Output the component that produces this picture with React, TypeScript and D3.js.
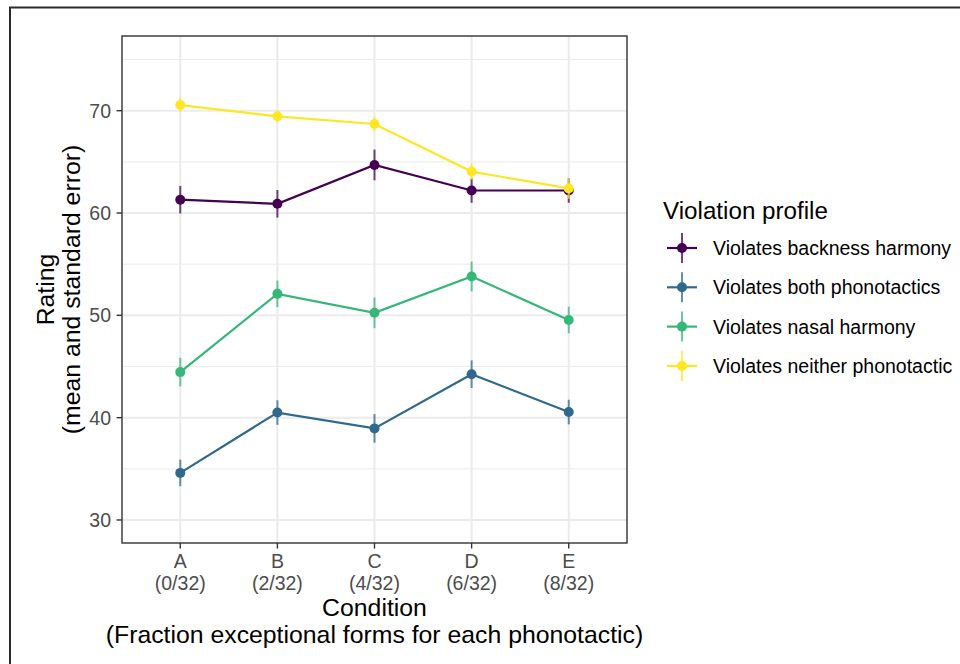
import React from "react";
import * as d3 from "d3";

const categories = ["A", "B", "C", "D", "E"];
const categorySub = ["(0/32)", "(2/32)", "(4/32)", "(6/32)", "(8/32)"];
const seriesNames = [
  "Violates backness harmony",
  "Violates both phonotactics",
  "Violates nasal harmony",
  "Violates neither phonotactic",
];
const seriesColors = ["#440154", "#31688E", "#35B779", "#FDE725"];
const backnessMean = [61.3, 60.9, 64.7, 62.2, 62.2];
const backnessSE = [1.35, 1.35, 1.5, 1.2, 1.2];
const bothMean = [34.6, 40.5, 38.95, 44.25, 40.55];
const bothSE = [1.3, 1.2, 1.4, 1.35, 1.2];
const nasalMean = [44.45, 52.1, 50.25, 53.8, 49.55];
const nasalSE = [1.4, 1.3, 1.5, 1.45, 1.3];
const neitherMean = [70.55, 69.45, 68.7, 64.05, 62.4];
const neitherSE = [0.7, 0.6, 0.7, 0.8, 1.0];
const yMajorTicks = [30, 40, 50, 60, 70];
const yMinorTicks = [35, 45, 55, 65, 75];

const seriesMeans = [backnessMean, bothMean, nasalMean, neitherMean];
const seriesSE = [backnessSE, bothSE, nasalSE, neitherSE];

export default function App() {
  const W = 960, H = 664;
  const pl = 122, pr = 627, pt = 36, pb = 543;
  const x = d3.scalePoint<string>().domain(categories).range([pl, pr]).padding(0.6);
  const y = d3.scaleLinear().domain([27.75, 77.3]).range([pb, pt]);
  const line = d3.line<number>().x((_, i) => x(categories[i])!).y((d) => y(d));
  const font = "'Liberation Sans', Arial, sans-serif";
  const tickFs = 19.5;
  const titleFs = 24.8;
  const legTitleFs = 24.2;

  return (
    <svg width={W} height={H} style={{ position: "absolute", left: 0, top: 0, display: "block" }} fontFamily={font}>
      <rect x={0} y={0} width={W} height={H} fill="#fff" />
      {/* outer frame */}
      <path d={`M10,${H} L10,7.5 L${W},7.5`} fill="none" stroke="#2b2b2b" strokeWidth={2} />
      {/* panel grid */}
      {yMinorTicks.map((t) => (
        <line key={"mi" + t} x1={pl} x2={pr} y1={y(t)} y2={y(t)} stroke="#EBEBEB" strokeWidth={1} />
      ))}
      {yMajorTicks.map((t) => (
        <line key={"ma" + t} x1={pl} x2={pr} y1={y(t)} y2={y(t)} stroke="#EBEBEB" strokeWidth={2} />
      ))}
      {categories.map((c) => (
        <line key={"vx" + c} x1={x(c)} x2={x(c)} y1={pt} y2={pb} stroke="#EBEBEB" strokeWidth={2} />
      ))}
      {/* series */}
      {seriesMeans.map((m, si) => (
        <g key={"s" + si}>
          {m.map((v, i) => (
            <line key={"e" + i} x1={x(categories[i])} x2={x(categories[i])}
              y1={y(v - seriesSE[si][i])} y2={y(v + seriesSE[si][i])}
              stroke={seriesColors[si]} strokeWidth={2} strokeOpacity={0.75} />
          ))}
          <path d={line(m)!} fill="none" stroke={seriesColors[si]} strokeWidth={2.2} />
          {m.map((v, i) => (
            <circle key={"p" + i} cx={x(categories[i])} cy={y(v)} r={5} fill={seriesColors[si]} />
          ))}
        </g>
      ))}
      {/* panel border */}
      <rect x={pl} y={pt} width={pr - pl} height={pb - pt} fill="none" stroke="#333333" strokeWidth={1.4} />
      {/* y axis */}
      {yMajorTicks.map((t) => (
        <g key={"yt" + t}>
          <line x1={pl - 5.5} x2={pl} y1={y(t)} y2={y(t)} stroke="#333333" strokeWidth={1.4} />
          <text x={pl - 11} y={y(t)} dy="0.36em" textAnchor="end" fontSize={tickFs} fill="#4D4D4D">{t}</text>
        </g>
      ))}
      {/* x axis */}
      {categories.map((c, i) => (
        <g key={"xt" + c}>
          <line x1={x(c)} x2={x(c)} y1={pb} y2={pb + 5.5} stroke="#333333" strokeWidth={1.4} />
          <text x={x(c)} y={pb + 25} textAnchor="middle" fontSize={tickFs} fill="#4D4D4D">{c}</text>
          <text x={x(c)} y={pb + 47} textAnchor="middle" fontSize={tickFs} fill="#4D4D4D">{categorySub[i]}</text>
        </g>
      ))}
      <text x={(pl + pr) / 2} y={616} textAnchor="middle" fontSize={titleFs} fill="#000">Condition</text>
      <text x={(pl + pr) / 2} y={643} textAnchor="middle" fontSize={titleFs} fill="#000">(Fraction exceptional forms for each phonotactic)</text>
      <g transform={`translate(54,${(pt + pb) / 2}) rotate(-90)`}>
        <text x={0} y={0} textAnchor="middle" fontSize={titleFs} fill="#000">Rating</text>
        <text x={0} y={26} textAnchor="middle" fontSize={titleFs} fill="#000">(mean and standard error)</text>
      </g>
      {/* legend */}
      <text x={663} y={219} fontSize={legTitleFs} fill="#000">Violation profile</text>
      {seriesNames.map((n, i) => {
        const cy = 248 + i * 39.3;
        return (
          <g key={"lg" + n}>
            <line x1={682} x2={682} y1={cy - 15} y2={cy + 15} stroke={seriesColors[i]} strokeWidth={2} strokeOpacity={0.75} />
            <line x1={667} x2={697} y1={cy} y2={cy} stroke={seriesColors[i]} strokeWidth={2.2} />
            <circle cx={682} cy={cy} r={5} fill={seriesColors[i]} />
            <text x={713} y={cy} dy="0.36em" fontSize={tickFs} fill="#000">{n}</text>
          </g>
        );
      })}
    </svg>
  );
}
